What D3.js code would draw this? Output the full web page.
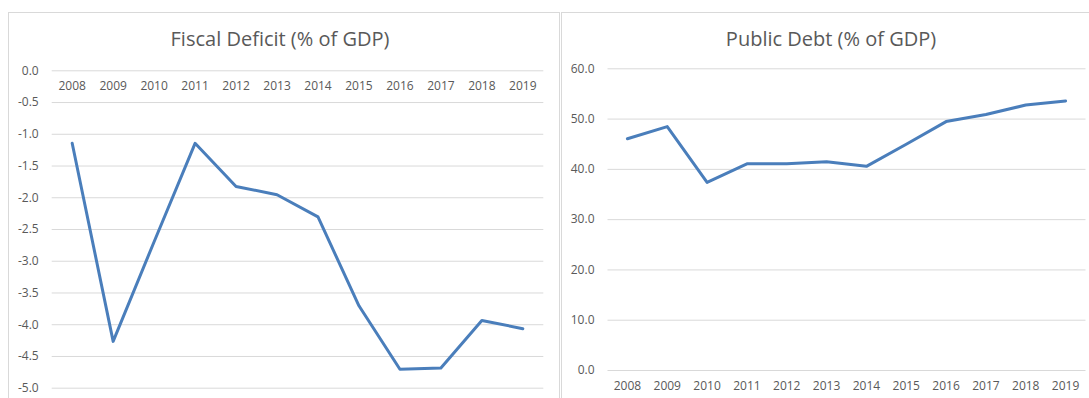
<!DOCTYPE html>
<html>
<head>
<meta charset="utf-8">
<script src="https://cdn.jsdelivr.net/npm/d3@7"></script>
<style>
  html, body { margin: 0; padding: 0; background: #ffffff; }
  svg { display: block; }
  text { font-family: "Open Sans", "Noto Sans", sans-serif; fill: #595959; }
</style>
</head>
<body>
<svg id="chart" width="1089" height="398"></svg>
<script>
// Years shared by both panels
const years = ["2008", "2009", "2010", "2011", "2012", "2013", "2014", "2015", "2016", "2017", "2018", "2019"];

// Fiscal balance, % of GDP
const fiscalDeficit = [-1.15, -4.27, -2.70, -1.15, -1.83, -1.96, -2.31, -3.71, -4.71, -4.69, -3.94, -4.07];

// Public debt, % of GDP
const publicDebt = [46.0, 48.4, 37.3, 41.0, 41.0, 41.4, 40.5, 44.9, 49.4, 50.8, 52.7, 53.5];

// Value-axis ticks
const deficitTicks = [0, -0.5, -1, -1.5, -2, -2.5, -3, -3.5, -4, -4.5, -5];
const debtTicks = [0, 10, 20, 30, 40, 50, 60];

const LINE = "#4a7ebb";
const GRID = "#d9d9d9";

const svg = d3.select("#chart");

function panel(cfg) {
  const g = svg.append("g");

  // chart frame
  g.append("rect")
    .attr("x", cfg.frame[0] + 0.5).attr("y", 12.5)
    .attr("width", cfg.frame[1] - cfg.frame[0]).attr("height", 420)
    .attr("fill", "#ffffff").attr("stroke", GRID).attr("stroke-width", 1);

  g.append("text")
    .attr("x", cfg.titleX).attr("y", 46)
    .attr("text-anchor", "middle")
    .style("font-size", "20px")
    .text(cfg.title);

  const x = d3.scaleBand().domain(years).range(cfg.xRange).padding(0);
  const y = d3.scaleLinear().domain(cfg.yDomain).range(cfg.yRange);

  // value axis with gridlines
  const yAxis = g.append("g")
    .attr("transform", `translate(${cfg.xRange[0]},0)`)
    .call(d3.axisLeft(y)
      .tickValues(cfg.ticks)
      .tickSize(-(cfg.xRange[1] - cfg.xRange[0]))
      .tickPadding(13)
      .tickFormat(d => d.toFixed(1)));
  yAxis.select(".domain").remove();
  yAxis.selectAll(".tick line").attr("stroke", GRID).attr("stroke-width", 1);
  yAxis.selectAll(".tick text").style("font-size", "12px").attr("fill", "#595959");

  // category axis
  const xAxis = g.append("g")
    .attr("transform", `translate(0,${cfg.xAxisY})`)
    .call(d3.axisBottom(x).tickSize(0).tickPadding(cfg.xPad));
  xAxis.select(".domain").remove();
  xAxis.selectAll(".tick text").style("font-size", "12px").attr("fill", "#595959");

  const line = d3.line()
    .x((d, i) => x(years[i]) + x.bandwidth() / 2)
    .y(d => y(d));

  g.append("path")
    .datum(cfg.values)
    .attr("d", line)
    .attr("fill", "none")
    .attr("stroke", LINE)
    .attr("stroke-width", 3)
    .attr("stroke-linejoin", "round")
    .attr("stroke-linecap", "round");
}

panel({
  frame: [8, 559],
  title: "Fiscal Deficit (% of GDP)",
  titleX: 280,
  xRange: [51.7, 543.3],
  yDomain: [0, -5],
  yRange: [70.3, 387.7],
  ticks: deficitTicks,
  values: fiscalDeficit,
  xAxisY: 70.3,
  xPad: 11
});

panel({
  frame: [561, 1120],
  title: "Public Debt (% of GDP)",
  titleX: 831,
  xRange: [607.5, 1085.5],
  yDomain: [0, 60],
  yRange: [370, 68.3],
  ticks: debtTicks,
  values: publicDebt,
  xAxisY: 370,
  xPad: 11
});
</script>
</body>
</html>
